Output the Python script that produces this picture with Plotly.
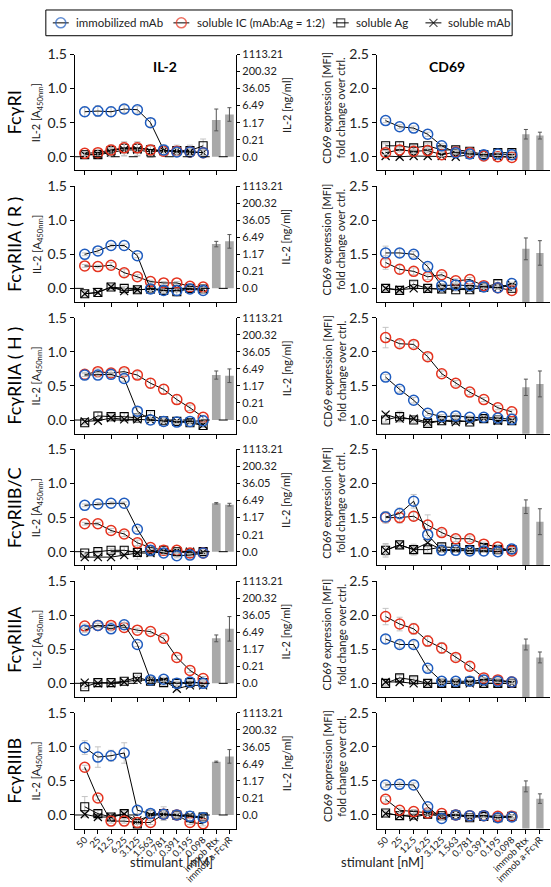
import plotly.graph_objects as go

# ---------------- data ----------------
CATS = ["50", "25", "12.5", "6.25", "3.125", "1.563", "0.781", "0.391", "0.195", "0.098"]
BAR_CATS = ["immob Rtx", "immob a-FcγR"]
RECEPTORS = ["FcγRI", "FcγRIIA ( R )", "FcγRIIA ( H )", "FcγRIIB/C", "FcγRIIIA", "FcγRIIIB"]
SERIES = ["immobilized mAb", "soluble IC (mAb:Ag = 1:2)", "soluble Ag", "soluble mAb"]
IL2_LEFT_TICKS = [0.0, 0.5, 1.0, 1.5]
IL2_RIGHT_TICKVALS = [0.0, 0.25, 0.5, 0.75, 1.0, 1.25, 1.5]
IL2_RIGHT_TICKS = ["0.0", "0.21", "1.17", "6.49", "36.05", "200.32", "1113.21"]
CD69_TICKS = [1.0, 1.5, 2.0, 2.5]

# IL-2 [A450nm], one row per receptor
IL2_IMM = [
    [0.66, 0.67, 0.66, 0.70, 0.69, 0.50, 0.10, 0.07, 0.07, 0.06],
    [0.50, 0.55, 0.63, 0.63, 0.48, -0.01, -0.03, -0.03, -0.01, -0.03],
    [0.66, 0.66, 0.67, 0.61, 0.13, 0.00, -0.02, -0.03, -0.02, -0.01],
    [0.68, 0.70, 0.71, 0.71, 0.33, 0.02, -0.02, -0.06, -0.05, -0.02],
    [0.78, 0.85, 0.80, 0.86, 0.57, 0.05, 0.06, 0.00, 0.02, 0.00],
    [0.99, 0.85, 0.87, 0.91, 0.07, 0.02, 0.01, 0.00, -0.02, -0.04],
]
IL2_IC = [
    [0.05, 0.06, 0.10, 0.13, 0.13, 0.10, 0.08, 0.08, 0.07, 0.06],
    [0.33, 0.32, 0.34, 0.23, 0.17, 0.10, 0.08, 0.08, 0.03, 0.02],
    [0.67, 0.71, 0.69, 0.71, 0.66, 0.54, 0.45, 0.30, 0.18, 0.04],
    [0.41, 0.41, 0.31, 0.26, 0.13, 0.06, 0.02, 0.02, -0.02, -0.02],
    [0.84, 0.85, 0.85, 0.82, 0.78, 0.76, 0.66, 0.38, 0.19, 0.07],
    [0.70, 0.25, -0.09, -0.09, -0.11, -0.11, 0.01, 0.00, -0.11, -0.13],
]
IL2_AG = [
    [0.03, 0.03, 0.09, 0.12, 0.12, 0.10, 0.09, 0.09, 0.09, 0.16],
    [-0.08, -0.06, 0.02, 0.00, -0.02, -0.01, -0.03, -0.05, 0.00, -0.01],
    [-0.04, 0.06, 0.05, 0.05, 0.03, 0.08, -0.01, -0.02, -0.04, -0.08],
    [-0.02, 0.00, 0.02, 0.02, -0.01, 0.01, 0.02, 0.00, -0.02, 0.00],
    [-0.05, 0.01, 0.01, 0.03, 0.09, 0.03, 0.01, 0.00, 0.01, 0.01],
    [0.12, 0.02, -0.03, 0.02, -0.13, 0.01, 0.02, 0.00, -0.04, -0.03],
]
IL2_MAB = [
    [0.03, 0.03, 0.06, 0.10, 0.10, 0.07, 0.09, 0.09, 0.07, 0.06],
    [-0.08, -0.06, 0.02, -0.04, -0.02, -0.01, -0.01, 0.00, 0.00, -0.01],
    [-0.02, -0.01, 0.03, 0.01, 0.01, 0.00, -0.02, -0.02, -0.02, -0.07],
    [-0.08, -0.08, -0.08, -0.05, -0.02, -0.02, 0.00, 0.01, 0.00, -0.01],
    [0.01, 0.00, 0.00, 0.02, 0.05, 0.04, 0.04, -0.08, -0.03, -0.03],
    [0.01, -0.03, -0.03, 0.01, -0.08, -0.01, 0.01, -0.01, -0.01, -0.03],
]
IL2_IMM_ERR = [
    [0.07, 0.08, 0.07, 0.05, 0.05, 0.06, 0.07, 0.06, 0.06, 0.04],
    [0.02, 0.03, 0.02, 0.02, 0.03, 0.02, 0.02, 0.02, 0.02, 0.04],
    [0.02, 0.03, 0.03, 0.04, 0.05, 0.02, 0.02, 0.02, 0.02, 0.02],
    [0.02, 0.02, 0.02, 0.02, 0.03, 0.02, 0.02, 0.03, 0.02, 0.02],
    [0.03, 0.03, 0.03, 0.03, 0.03, 0.03, 0.03, 0.03, 0.03, 0.02],
    [0.10, 0.15, 0.08, 0.15, 0.05, 0.05, 0.05, 0.03, 0.03, 0.03],
]
IL2_IC_ERR = [
    [0.03, 0.05, 0.07, 0.08, 0.08, 0.07, 0.06, 0.06, 0.05, 0.05],
    [0.02, 0.02, 0.04, 0.05, 0.03, 0.02, 0.02, 0.02, 0.02, 0.02],
    [0.03, 0.04, 0.04, 0.04, 0.05, 0.07, 0.07, 0.07, 0.04, 0.03],
    [0.02, 0.02, 0.03, 0.04, 0.04, 0.03, 0.03, 0.03, 0.02, 0.02],
    [0.03, 0.03, 0.04, 0.03, 0.03, 0.03, 0.04, 0.03, 0.03, 0.03],
    [0.03, 0.03, 0.03, 0.03, 0.03, 0.03, 0.03, 0.03, 0.03, 0.03],
]
IL2_AG_ERR = [
    [0.03, 0.03, 0.08, 0.10, 0.10, 0.08, 0.08, 0.08, 0.08, 0.10],
    [0.03, 0.03, 0.03, 0.03, 0.04, 0.04, 0.04, 0.06, 0.04, 0.05],
    [0.03, 0.06, 0.05, 0.06, 0.04, 0.04, 0.03, 0.02, 0.02, 0.03],
    [0.02, 0.02, 0.03, 0.05, 0.10, 0.08, 0.06, 0.05, 0.04, 0.04],
    [0.02, 0.02, 0.02, 0.02, 0.03, 0.03, 0.04, 0.03, 0.02, 0.02],
    [0.15, 0.05, 0.05, 0.05, 0.05, 0.05, 0.10, 0.05, 0.05, 0.05],
]
IL2_MAB_ERR = [
    [0.02, 0.03, 0.06, 0.09, 0.09, 0.08, 0.06, 0.05, 0.05, 0.04],
    [0.03, 0.03, 0.03, 0.04, 0.03, 0.03, 0.03, 0.03, 0.03, 0.03],
    [0.03, 0.03, 0.04, 0.03, 0.03, 0.02, 0.02, 0.02, 0.02, 0.02],
    [0.02, 0.02, 0.02, 0.02, 0.02, 0.02, 0.02, 0.02, 0.02, 0.02],
    [0.02, 0.02, 0.02, 0.02, 0.02, 0.02, 0.02, 0.03, 0.02, 0.02],
    [0.03, 0.03, 0.03, 0.03, 0.03, 0.03, 0.03, 0.03, 0.03, 0.03],
]
IL2_BARS = [[0.54, 0.62], [0.65, 0.69], [0.66, 0.65], [0.71, 0.69], [0.66, 0.80], [0.78, 0.86]]
IL2_BARS_ERR = [[0.16, 0.10], [0.04, 0.10], [0.06, 0.10], [0.01, 0.02], [0.05, 0.18], [0.01, 0.10]]

# CD69 expression, fold change over ctrl.
CD69_IMM = [
    [1.53, 1.44, 1.42, 1.33, 1.16, 1.06, 1.04, 1.03, 1.04, 1.03],
    [1.52, 1.52, 1.50, 1.32, 1.04, 1.05, 1.04, 1.02, 1.01, 1.07],
    [1.63, 1.45, 1.29, 1.10, 1.05, 1.06, 1.04, 1.04, 1.03, 1.01],
    [1.51, 1.56, 1.74, 1.25, 1.02, 1.02, 1.01, 1.01, 1.00, 1.04],
    [1.65, 1.57, 1.57, 1.22, 1.03, 1.03, 1.03, 1.05, 1.03, 1.02],
    [1.44, 1.45, 1.44, 1.12, 0.95, 1.00, 0.99, 0.99, 0.96, 0.97],
]
CD69_IC = [
    [1.06, 1.10, 1.08, 1.09, 1.03, 1.07, 1.06, 1.01, 1.00, 0.99],
    [1.38, 1.28, 1.25, 1.17, 1.20, 1.11, 1.13, 1.04, 1.01, 0.97],
    [2.21, 2.12, 2.11, 1.93, 1.68, 1.54, 1.41, 1.30, 1.18, 1.12],
    [1.50, 1.50, 1.52, 1.39, 1.28, 1.19, 1.19, 1.11, 1.07, 1.01],
    [1.98, 1.87, 1.80, 1.62, 1.52, 1.38, 1.25, 1.08, 1.05, 1.02],
    [1.23, 1.07, 1.05, 1.03, 1.02, 1.00, 0.99, 0.99, 0.98, 0.98],
]
CD69_AG = [
    [1.16, 1.16, 1.13, 1.16, 1.10, 1.10, 1.08, 1.03, 1.06, 1.06],
    [1.00, 0.97, 1.06, 1.00, 0.99, 0.98, 0.98, 1.02, 1.07, 1.00],
    [1.00, 1.05, 1.00, 0.95, 0.99, 1.00, 0.97, 1.02, 1.00, 0.99],
    [1.02, 1.10, 1.03, 1.03, 1.07, 1.06, 1.03, 1.06, 1.03, 1.03],
    [1.00, 1.08, 1.05, 1.00, 1.00, 1.00, 1.03, 1.00, 1.00, 1.00],
    [1.03, 0.99, 1.00, 1.01, 0.99, 1.00, 0.96, 0.98, 0.96, 0.98],
]
CD69_MAB = [
    [1.01, 1.00, 1.01, 1.01, 1.01, 1.00, 1.03, 1.03, 1.00, 1.01],
    [1.00, 0.98, 1.00, 0.99, 0.99, 1.01, 0.99, 1.01, 1.01, 1.05],
    [1.08, 1.02, 1.02, 0.97, 0.99, 0.97, 0.99, 1.03, 0.99, 0.99],
    [1.02, 1.10, 1.03, 1.13, 1.03, 1.03, 1.03, 1.03, 1.03, 1.02],
    [1.02, 1.02, 1.00, 1.00, 1.00, 1.00, 1.00, 1.00, 1.00, 1.00],
    [1.02, 0.99, 0.97, 1.01, 0.99, 1.00, 0.97, 0.99, 0.96, 0.98],
]
CD69_IMM_ERR = [
    [0.03, 0.03, 0.03, 0.03, 0.03, 0.02, 0.02, 0.02, 0.02, 0.02],
    [0.10, 0.06, 0.04, 0.04, 0.03, 0.02, 0.02, 0.02, 0.02, 0.02],
    [0.04, 0.04, 0.04, 0.03, 0.03, 0.03, 0.02, 0.02, 0.02, 0.02],
    [0.08, 0.08, 0.10, 0.06, 0.03, 0.03, 0.02, 0.02, 0.02, 0.02],
    [0.06, 0.05, 0.05, 0.04, 0.03, 0.03, 0.03, 0.03, 0.02, 0.02],
    [0.03, 0.03, 0.03, 0.03, 0.02, 0.02, 0.02, 0.02, 0.02, 0.02],
]
CD69_IC_ERR = [
    [0.03, 0.03, 0.03, 0.03, 0.03, 0.02, 0.02, 0.02, 0.02, 0.02],
    [0.10, 0.06, 0.05, 0.04, 0.03, 0.03, 0.03, 0.02, 0.02, 0.02],
    [0.15, 0.05, 0.05, 0.05, 0.04, 0.04, 0.04, 0.03, 0.03, 0.03],
    [0.08, 0.08, 0.06, 0.15, 0.05, 0.04, 0.04, 0.03, 0.03, 0.02],
    [0.12, 0.10, 0.08, 0.08, 0.08, 0.05, 0.05, 0.04, 0.03, 0.03],
    [0.04, 0.03, 0.03, 0.03, 0.02, 0.02, 0.02, 0.02, 0.02, 0.02],
]
CD69_AG_ERR = [
    [0.03, 0.06, 0.03, 0.03, 0.03, 0.02, 0.02, 0.02, 0.02, 0.02],
    [0.03, 0.03, 0.04, 0.03, 0.03, 0.02, 0.02, 0.03, 0.05, 0.02],
    [0.03, 0.08, 0.04, 0.03, 0.02, 0.02, 0.02, 0.02, 0.02, 0.02],
    [0.08, 0.04, 0.08, 0.04, 0.03, 0.03, 0.02, 0.02, 0.02, 0.02],
    [0.03, 0.04, 0.03, 0.03, 0.02, 0.02, 0.02, 0.02, 0.02, 0.02],
    [0.03, 0.02, 0.02, 0.02, 0.02, 0.02, 0.02, 0.02, 0.02, 0.02],
]
CD69_MAB_ERR = [
    [0.02, 0.02, 0.02, 0.02, 0.02, 0.02, 0.02, 0.02, 0.02, 0.02],
    [0.02, 0.02, 0.02, 0.02, 0.02, 0.02, 0.02, 0.02, 0.02, 0.02],
    [0.03, 0.02, 0.02, 0.02, 0.02, 0.02, 0.02, 0.02, 0.02, 0.02],
    [0.10, 0.04, 0.03, 0.03, 0.02, 0.02, 0.02, 0.02, 0.02, 0.02],
    [0.02, 0.02, 0.02, 0.02, 0.02, 0.02, 0.02, 0.02, 0.02, 0.02],
    [0.02, 0.02, 0.02, 0.02, 0.02, 0.02, 0.02, 0.02, 0.02, 0.02],
]
CD69_BARS = [[1.33, 1.31], [1.58, 1.52], [1.48, 1.53], [1.66, 1.44], [1.57, 1.38], [1.42, 1.24]]
CD69_BARS_ERR = [[0.07, 0.05], [0.16, 0.18], [0.12, 0.19], [0.10, 0.19], [0.08, 0.08], [0.08, 0.07]]

# ---------------- styling / layout ----------------
W, H = 551, 887
FONT = "Lato"
BLUE = "#1f5cbf"
RED = "#e5331f"
ERRC = "#c4c4c4"
BARC = "#a9a9a9"
ALL_CATS = CATS + BAR_CATS

def fx(px):
    return px / W

def fy(py):
    return 1 - py / H

LEFT_DOM = [fx(73), fx(235)]
RIGHT_DOM = [fx(376), fx(550)]
ROW_TOP0, ROW_BOT0, ROW_STEP = 46, 163, 133

STYLES = [
    dict(symbol="circle-open", size=10, color=BLUE, lw=1.5),
    dict(symbol="circle-open", size=10, color=RED, lw=1.5),
    dict(symbol="square-open", size=8, color="black", lw=1.1),
    dict(symbol="x-thin-open", size=8, color="black", lw=1.2),
]
DRAW_ORDER = [2, 3, 1, 0]
# legend layout in pixels: symbol centre and text start
LEG_SYM_X = [59, 180, 340, 433]
LEG_TXT_X = [72, 194, 353, 446]

fig = go.Figure()
layout = {}
annotations = []
shapes = []

def nm(k):
    return "" if k == 1 else str(k)

for r in range(6):
    top = ROW_TOP0 + r * ROW_STEP
    bot = ROW_BOT0 + r * ROW_STEP
    dom_y = [fy(bot), fy(top)]
    xl, xr = 2 * r + 1, 2 * r + 2
    yl, yl2, yr = 3 * r + 1, 3 * r + 2, 3 * r + 3
    last = r == 5

    common_x = dict(type="category", categoryorder="array", categoryarray=ALL_CATS,
                    showline=True, linecolor="black", linewidth=1, ticks="outside",
                    ticklen=4, tickcolor="black", showgrid=False, zeroline=False,
                    showticklabels=last, tickangle=-45, ticklabelstandoff=-3,
                    tickfont=dict(size=9.5, color="#222", family=FONT))
    layout["xaxis" + nm(xl)] = dict(common_x, domain=LEFT_DOM, anchor="y" + nm(yl),
                                    range=[-0.76, 11.51])
    layout["xaxis" + nm(xr)] = dict(common_x, domain=RIGHT_DOM, anchor="y" + nm(yr),
                                    range=[-0.64, 11.72])
    common_y = dict(showline=True, linecolor="black", linewidth=1, ticks="outside",
                    ticklen=4, tickcolor="black", showgrid=False, zeroline=False,
                    tickformat=".1f", tickfont=dict(size=14, color="#222", family=FONT))
    layout["yaxis" + nm(yl)] = dict(common_y, domain=dom_y, anchor="x" + nm(xl),
                                    range=[-0.2, 1.5], tickvals=IL2_LEFT_TICKS)
    layout["yaxis" + nm(yl2)] = dict(common_y, anchor="x" + nm(xl), overlaying="y" + nm(yl),
                                     side="right", range=[-0.2, 1.5], ticklen=3,
                                     tickvals=IL2_RIGHT_TICKVALS, ticktext=IL2_RIGHT_TICKS,
                                     tickfont=dict(size=11, color="#222", family=FONT))
    layout["yaxis" + nm(yr)] = dict(common_y, domain=dom_y, anchor="x" + nm(xr),
                                    range=[0.8, 2.5], tickvals=CD69_TICKS)

    il2_vals = [IL2_IMM[r], IL2_IC[r], IL2_AG[r], IL2_MAB[r]]
    il2_errs = [IL2_IMM_ERR[r], IL2_IC_ERR[r], IL2_AG_ERR[r], IL2_MAB_ERR[r]]
    cd_vals = [CD69_IMM[r], CD69_IC[r], CD69_AG[r], CD69_MAB[r]]
    cd_errs = [CD69_IMM_ERR[r], CD69_IC_ERR[r], CD69_AG_ERR[r], CD69_MAB_ERR[r]]

    fig.add_trace(go.Bar(x=BAR_CATS, y=IL2_BARS[r], width=0.66, marker_color=BARC,
                         marker_line_width=0, showlegend=False,
                         error_y=dict(type="data", array=IL2_BARS_ERR[r], color="#555",
                                      thickness=1, width=2),
                         xaxis="x" + nm(xl), yaxis="y" + nm(yl2)))
    fig.add_trace(go.Bar(x=BAR_CATS, y=CD69_BARS[r], width=0.52, marker_color=BARC,
                         marker_line_width=0, showlegend=False,
                         error_y=dict(type="data", array=CD69_BARS_ERR[r], color="#555",
                                      thickness=1, width=2),
                         xaxis="x" + nm(xr), yaxis="y" + nm(yr)))

    for k in DRAW_ORDER:
        st = STYLES[k]
        for vals, errs, xa, ya in ((il2_vals[k], il2_errs[k], xl, yl),
                                   (cd_vals[k], cd_errs[k], xr, yr)):
            fig.add_trace(go.Scatter(
                x=CATS, y=vals, mode="lines+markers", name=SERIES[k], showlegend=False,
                line=dict(color="black", width=1),
                marker=dict(symbol=st["symbol"], size=st["size"], color=st["color"],
                            line=dict(width=st["lw"], color=st["color"])),
                error_y=dict(type="data", array=errs, color=ERRC, thickness=1, width=3),
                xaxis="x" + nm(xa), yaxis="y" + nm(ya), cliponaxis=False))

    shapes.append(dict(type="line", xref="x" + nm(xl) + " domain", yref="y" + nm(yl),
                       x0=0, x1=1, y0=0, y1=0, line=dict(color="black", width=1, dash="dash")))

    cy = (top + bot) / 2
    annotations.append(dict(x=fx(12), y=fy(cy), xref="paper", yref="paper",
                            text=RECEPTORS[r], textangle=-90, showarrow=False,
                            font=dict(size=18, family=FONT, color="black"),
                            xanchor="center", yanchor="middle"))
    annotations.append(dict(x=fx(35), y=fy(cy), xref="paper", yref="paper",
                            text="IL-2 [A<sub>450nm</sub>]", textangle=-90, showarrow=False,
                            font=dict(size=11, family=FONT, color="#222"),
                            xanchor="center", yanchor="middle"))
    annotations.append(dict(x=fx(285), y=fy(top + 51), xref="paper", yref="paper",
                            text="IL-2 [ng/ml]", textangle=-90, showarrow=False,
                            font=dict(size=11, family=FONT, color="#222"),
                            xanchor="center", yanchor="middle"))
    annotations.append(dict(x=fx(333), y=fy(top + 54), xref="paper", yref="paper",
                            text="CD69 expression [MFI]<br>fold change over ctrl.",
                            textangle=-90, showarrow=False,
                            font=dict(size=11, family=FONT, color="#222"),
                            xanchor="center", yanchor="middle"))

# ---- legend drawn on its own small axis ----
LX, LY = 13, 19
layout["xaxis" + str(LX)] = dict(domain=[fx(44), fx(512)], range=[44, 512], visible=False,
                                 anchor="y" + str(LY), fixedrange=True)
layout["yaxis" + str(LY)] = dict(domain=[fy(27), fy(1)], range=[27, 1], visible=False,
                                 anchor="x" + str(LX), fixedrange=True)
for k in range(4):
    st = STYLES[k]
    cx = LEG_SYM_X[k]
    fig.add_trace(go.Scatter(
        x=[cx - 8, cx, cx + 8], y=[14, 14, 14], mode="lines+markers", showlegend=False,
        hoverinfo="skip", line=dict(color="black", width=1),
        marker=dict(symbol=st["symbol"], size=[0, st["size"], 0], color=st["color"],
                    line=dict(width=st["lw"], color=st["color"])),
        xaxis="x" + str(LX), yaxis="y" + str(LY)))
    annotations.append(dict(x=LEG_TXT_X[k], y=14, xref="x" + str(LX), yref="y" + str(LY),
                            text=SERIES[k], showarrow=False, xanchor="left", yanchor="middle",
                            font=dict(size=11.5, family=FONT, color="#222")))
shapes.append(dict(type="rect", xref="paper", yref="paper", x0=fx(44), x1=fx(512),
                   y0=fy(27), y1=fy(1), line=dict(color="black", width=1)))

annotations.append(dict(x=fx(150), y=fy(47), xref="paper", yref="paper", text="<b>IL-2</b>",
                        showarrow=False, font=dict(size=14, family=FONT, color="black")))
annotations.append(dict(x=fx(467), y=fy(47), xref="paper", yref="paper", text="<b>CD69</b>",
                        showarrow=False, font=dict(size=14, family=FONT, color="black")))
annotations.append(dict(x=fx(126), y=fy(872), xref="paper", yref="paper", text="stimulant [nM]",
                        showarrow=False, font=dict(size=13, family=FONT, color="#222")))
annotations.append(dict(x=fx(426), y=fy(872), xref="paper", yref="paper", text="stimulant [nM]",
                        showarrow=False, font=dict(size=13, family=FONT, color="#222")))

fig.update_layout(
    width=W, height=H, margin=dict(l=0, r=0, t=0, b=0),
    paper_bgcolor="white", plot_bgcolor="rgba(0,0,0,0)",
    font=dict(family=FONT, color="#222"),
    showlegend=False,
    annotations=annotations, shapes=shapes,
    barmode="overlay",
    **layout,
)

fig.write_html("out.html", config={"displayModeBar": False},
               post_script="document.body.style.margin='0';document.body.style.overflow='hidden';")
